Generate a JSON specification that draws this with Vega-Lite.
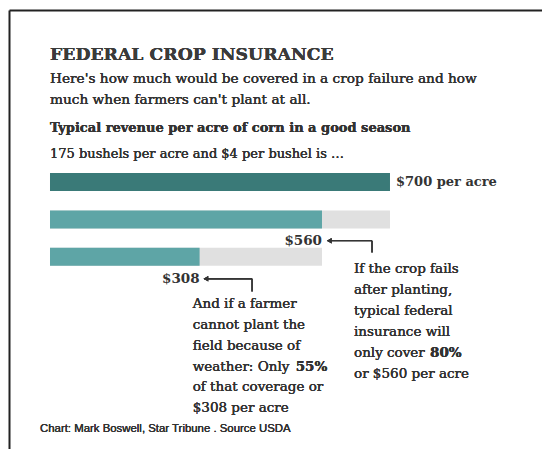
{
  "$schema": "https://vega.github.io/schema/vega-lite/v6.json",
  "autosize": {"type": "none"},
  "padding": {"left": 9, "top": 10, "right": 0, "bottom": 0},
  "width": 533,
  "height": 439,
  "background": "white",
  "config": {"view": {"stroke": null}, "text": {"font": "DejaVu Serif", "color": "#333"}},
  "datasets": {
    "bars": [
      {"scenario": "Good season revenue", "rank": 1, "value": 700, "ceiling": 700},
      {"scenario": "Crop fails after planting (80%)", "rank": 2, "value": 560, "ceiling": 700},
      {"scenario": "Cannot plant (55% of coverage)", "rank": 3, "value": 308, "ceiling": 560}
    ]
  },
  "data": {"name": "bars"},
  "encoding": {
    "y": {"field": "rank", "type": "quantitative", "scale": {"domain": [-3.471, 8.007], "reverse": true, "nice": false, "zero": false},
      "axis": {"orient": "left", "domain": true, "domainColor": "#222", "domainWidth": 2, "ticks": false, "labels": false, "grid": false, "title": null}},
    "x": {"field": "value", "type": "quantitative", "scale": {"domain": [-84.41, 1012.97], "nice": false, "zero": false},
      "axis": {"orient": "top", "domain": true, "domainColor": "#222", "domainWidth": 2, "ticks": false, "labels": false, "grid": false, "title": null}}
  },
  "layer": [
    {
      "transform": [{"filter": "datum.rank > 1"}],
      "mark": {"type": "bar", "orient": "horizontal", "height": 18, "color": "#e0e0e0"},
      "encoding": {"x": {"field": "ceiling", "type": "quantitative"}, "x2": {"datum": 0}}
    },
    {
      "mark": {"type": "bar", "orient": "horizontal", "height": 18},
      "encoding": {
        "x2": {"datum": 0},
        "color": {"field": "scenario", "type": "nominal", "legend": null,
          "scale": {"domain": ["Good season revenue", "Crop fails after planting (80%)", "Cannot plant (55% of coverage)"], "range": ["#3a7a78", "#5ea5a6", "#5ea5a6"]}}
      }
    },
    {
      "transform": [{"filter": "datum.rank == 1"}],
      "mark": {"type": "text", "align": "left", "baseline": "middle", "dx": 6, "fontWeight": "bold", "fontSize": 13},
      "encoding": {"text": {"value": "$700 per acre"}}
    },
    {
      "transform": [{"filter": "datum.rank > 1"}],
      "mark": {"type": "text", "align": "right", "baseline": "middle", "dy": 22, "fontWeight": "bold", "fontSize": 13.5},
      "encoding": {"text": {"field": "value", "type": "quantitative", "format": "$d"}}
    },
    {
      "mark": {"type": "text", "align": "left", "baseline": "alphabetic", "fontWeight": "bold", "fontSize": 17.3, "color": "#3b3b3b"},
      "encoding": {"x": {"datum": 0}, "y": {"datum": -2.268}, "text": {"value": "FEDERAL CROP INSURANCE"}}
    },
    {
      "mark": {"type": "text", "align": "left", "baseline": "alphabetic", "fontSize": 13.7, "lineHeight": 20.5},
      "encoding": {"x": {"datum": 0}, "y": {"datum": -1.641}, "text": {"value": ["Here's how much would be covered in a crop failure and how", "much when farmers can't plant at all."]}}
    },
    {
      "mark": {"type": "text", "align": "left", "baseline": "alphabetic", "fontWeight": "bold", "fontSize": 13},
      "encoding": {"x": {"datum": 0}, "y": {"datum": -0.333}, "text": {"value": "Typical revenue per acre of corn in a good season"}}
    },
    {
      "mark": {"type": "text", "align": "left", "baseline": "alphabetic", "fontSize": 13},
      "encoding": {"x": {"datum": 0}, "y": {"datum": 0.36}, "text": {"value": "175 bushels per acre and $4 per bushel is …"}}
    },
    {
      "mark": {"type": "rule", "color": "#333", "strokeWidth": 1.2},
      "encoding": {"x": {"datum": 572}, "x2": {"datum": 663}, "y": {"datum": 2.569}}
    },
    {
      "mark": {"type": "rule", "color": "#333", "strokeWidth": 1.2},
      "encoding": {"x": {"datum": 663}, "y": {"datum": 2.569}, "y2": {"datum": 2.882}}
    },
    {
      "mark": {"type": "point", "shape": "triangle-left", "filled": true, "color": "#333", "size": 30, "opacity": 1},
      "encoding": {"x": {"datum": 575}, "y": {"datum": 2.569}}
    },
    {
      "mark": {"type": "rule", "color": "#333", "strokeWidth": 1.2},
      "encoding": {"x": {"datum": 318}, "x2": {"datum": 416}, "y": {"datum": 3.588}}
    },
    {
      "mark": {"type": "rule", "color": "#333", "strokeWidth": 1.2},
      "encoding": {"x": {"datum": 416}, "y": {"datum": 3.588}, "y2": {"datum": 3.928}}
    },
    {
      "mark": {"type": "point", "shape": "triangle-left", "filled": true, "color": "#333", "size": 30, "opacity": 1},
      "encoding": {"x": {"datum": 321}, "y": {"datum": 3.588}}
    },
    {
      "mark": {"type": "text", "align": "left", "baseline": "alphabetic", "fontSize": 13.5, "lineHeight": 20.8},
      "encoding": {"x": {"datum": 293.8}, "y": {"datum": 4.375},
        "text": {"value": ["And if a farmer", "cannot plant the", "field because of", "weather: Only", "of that coverage or", "$308 per acre"]}}
    },
    {
      "mark": {"type": "text", "align": "left", "baseline": "alphabetic", "fontSize": 13.5, "fontWeight": "bold", "dx": 103, "dy": 62.4},
      "encoding": {"x": {"datum": 293.8}, "y": {"datum": 4.375}, "text": {"value": "55%"}}
    },
    {
      "mark": {"type": "text", "align": "left", "baseline": "alphabetic", "fontSize": 13.5, "lineHeight": 21},
      "encoding": {"x": {"datum": 625.9}, "y": {"datum": 3.431},
        "text": {"value": ["If the crop fails", "after planting,", "typical federal", "insurance will", "only cover", "or $560 per acre"]}}
    },
    {
      "mark": {"type": "text", "align": "left", "baseline": "alphabetic", "fontSize": 13.5, "fontWeight": "bold", "dx": 76, "dy": 84},
      "encoding": {"x": {"datum": 625.9}, "y": {"datum": 3.431}, "text": {"value": "80%"}}
    },
    {
      "mark": {"type": "text", "align": "left", "baseline": "alphabetic", "font": "Liberation Sans", "fontSize": 11.4, "color": "#333"},
      "encoding": {"x": {"datum": -20.6}, "y": {"datum": 7.693}, "text": {"value": "Chart:  Mark Boswell, Star Tribune . Source USDA"}}
    }
  ]
}
